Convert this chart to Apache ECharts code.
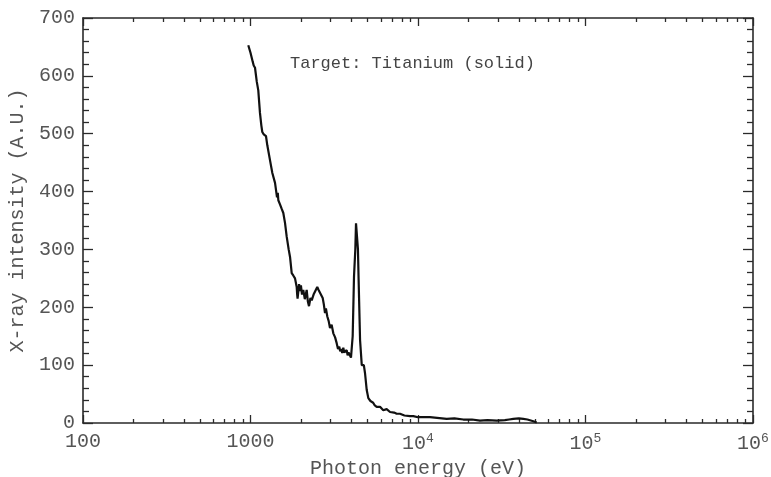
<!DOCTYPE html>
<html>
<head>
<meta charset="utf-8">
<script src="https://cdn.jsdelivr.net/npm/echarts@6/dist/echarts.min.js"></script>
<style>html,body{margin:0;padding:0;background:#fff}#c{width:771px;height:477px}</style>
</head>
<body>
<div id="c"></div>
<script>
// Photon energy (eV)
const energy = [970, 1000, 1030, 1045, 1064, 1090, 1113, 1139, 1160, 1176, 1200, 1237, 1260, 1308, 1350, 1401, 1440, 1455, 1466, 1500, 1536, 1570, 1607, 1645, 1690, 1722, 1762, 1800, 1844, 1887, 1900, 1910, 1929, 1950, 1975, 2000, 2030, 2066, 2110, 2165, 2200, 2235, 2280, 2320, 2380, 2427, 2504, 2550, 2600, 2698, 2740, 2785, 2820, 2875, 2930, 2983, 3050, 3122, 3200, 3270, 3330, 3389, 3430, 3480, 3530, 3581, 3630, 3680, 3753, 3800, 3850, 3926, 3980, 4020, 4074, 4149, 4224, 4265, 4342, 4380, 4421, 4510, 4616, 4677, 4750, 4828, 4942, 5052, 5150, 5200, 5292, 5400, 5500, 5667, 5931, 6205, 6500, 6807, 7200, 7463, 7808, 8300, 8958, 9374, 10000, 11000, 11794, 13000, 14834, 16500, 18640, 21000, 23450, 26000, 29500, 33000, 35000, 37070, 40000, 42540, 45000, 48800, 51140];
// X-ray intensity (A.U.)
const intensity = [653, 640, 625, 618, 614, 590, 575, 536, 515, 503, 499, 496, 480, 454, 432, 415, 390, 398, 385, 378, 370, 363, 346, 322, 300, 287, 259, 255, 250, 235, 222, 215, 218, 240, 228, 238, 222, 230, 214, 230, 210, 202, 216, 212, 222, 221, 235, 230, 233, 216, 205, 190, 198, 184, 176, 164, 170, 155, 148, 138, 128, 132, 124, 128, 121, 130, 122, 120, 126, 117, 122, 121, 113, 115, 150, 253, 300, 345, 343, 300, 247, 143, 100, 97, 100, 86, 57, 43, 44, 38, 37, 35, 31, 28, 28, 22, 24, 19, 18, 16, 16, 13, 12, 12, 10, 10, 10, 9, 7, 8, 6, 6, 4, 5, 4, 5, 6, 7, 8, 7, 6, 3, 1];

const xTickValues = [100, 1000, 10000, 100000, 1000000];
const xTickLabels = ['100', '1000', '10{sup|4}', '10{sup|5}', '10{sup|6}'];
const xMinorMultipliers = [2, 3, 4, 5, 6, 7, 8, 9];
const yTicks = [0, 100, 200, 300, 400, 500, 600, 700];
const annotation = 'Target: Titanium (solid)';
const xName = 'Photon energy (eV)';
const yName = 'X-ray intensity (A.U.)';

const minorX = [];
xTickValues.slice(0, -1).forEach(d => xMinorMultipliers.forEach(m => minorX.push(m * d)));

const FONT = "'Liberation Mono', 'DejaVu Sans Mono', monospace";
const AX = '#2a2a2a';
const TXT = '#555555';

function xAxisCfg(pos, major, labels) {
  return {
    type: 'log', logBase: 10, min: 100, max: 1000000, position: pos,
    axisLine: { show: major, onZero: false, lineStyle: { color: AX, width: 1.6 } },
    axisTick: { show: true, inside: true, length: major ? 8 : 4,
      customValues: major ? xTickValues : minorX,
      lineStyle: { color: AX, width: 1.3 } },
    axisLabel: { show: labels, customValues: xTickValues, margin: 9,
      fontFamily: FONT, fontSize: 20, color: TXT,
      formatter: v => { const i = xTickValues.indexOf(v); return i >= 0 ? xTickLabels[i] : ''; },
      rich: { sup: { fontFamily: FONT, fontSize: 13, color: TXT, padding: [0, 0, 10, 0] } } },
    splitLine: { show: false }, minorTick: { show: false },
    name: labels ? xName : '', nameLocation: 'middle', nameGap: 27,
    nameTextStyle: { fontFamily: FONT, fontSize: 20, color: TXT }
  };
}
function yAxisCfg(pos, labels) {
  return {
    type: 'value', min: 0, max: 700, interval: 100, position: pos,
    axisLine: { show: true, onZero: false, lineStyle: { color: AX, width: 1.6 } },
    axisTick: { show: true, inside: true, length: 10, lineStyle: { color: AX, width: 1.3 } },
    minorTick: { show: true, splitNumber: 5, length: 6, lineStyle: { color: AX, width: 1.3 } },
    axisLabel: { show: labels, margin: 8, fontFamily: FONT, fontSize: 20, color: TXT,
      formatter: v => (yTicks.indexOf(v) >= 0 ? String(v) : '') },
    splitLine: { show: false }, minorSplitLine: { show: false },
    name: labels ? yName : '', nameLocation: 'middle', nameGap: 50,
    nameTextStyle: { fontFamily: FONT, fontSize: 20, color: TXT }
  };
}

const chart = echarts.init(document.getElementById('c'), null, { renderer: 'canvas' });
chart.setOption({
  animation: false,
  backgroundColor: '#ffffff',
  title: { text: annotation, left: 290, top: 55, padding: 0,
    textStyle: { fontFamily: FONT, fontSize: 17, fontWeight: 'normal', color: '#444' } },
  grid: { left: 83, right: 18, top: 18, bottom: 54, containLabel: false, outerBoundsMode: 'none' },
  xAxis: [xAxisCfg('bottom', true, true), xAxisCfg('top', true, false),
          xAxisCfg('bottom', false, false), xAxisCfg('top', false, false)],
  yAxis: [yAxisCfg('left', true), yAxisCfg('right', false)],
  series: [{
    type: 'line', xAxisIndex: 0, yAxisIndex: 0, showSymbol: false,
    data: energy.map((e, i) => [e, intensity[i]]),
    lineStyle: { color: '#111', width: 2.2 }, itemStyle: { color: '#111' }
  }]
});
</script>
</body>
</html>
